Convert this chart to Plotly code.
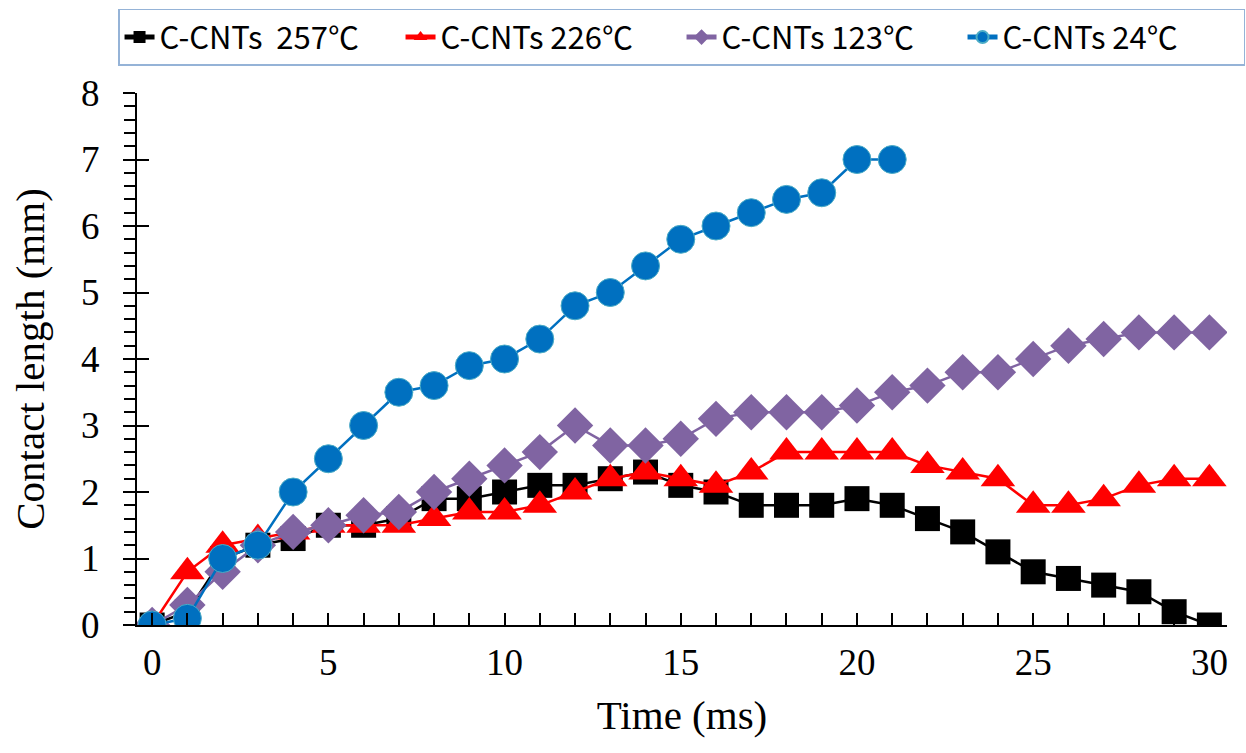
import plotly.graph_objects as go

# Time (ms)
time_ms = list(range(0, 31))
time_24 = list(range(0, 22))

# Contact length (mm) for each substrate temperature
len_257 = [0, 0.2, 1.0, 1.2, 1.3, 1.5, 1.5, 1.6, 1.9, 1.9, 2.0, 2.1, 2.1, 2.2, 2.3, 2.1,
           2.0, 1.8, 1.8, 1.8, 1.9, 1.8, 1.6, 1.4, 1.1, 0.8, 0.7, 0.6, 0.5, 0.2, 0.0]
len_226 = [0, 0.8, 1.2, 1.3, 1.4, 1.5, 1.5, 1.5, 1.6, 1.7, 1.7, 1.8, 2.0, 2.2, 2.3, 2.2,
           2.1, 2.3, 2.6, 2.6, 2.6, 2.6, 2.4, 2.3, 2.2, 1.8, 1.8, 1.9, 2.1, 2.2, 2.2]
len_123 = [0, 0.3, 0.8, 1.2, 1.4, 1.5, 1.65, 1.7, 2.0, 2.2, 2.4, 2.6, 3.0, 2.7, 2.7, 2.8,
           3.1, 3.2, 3.2, 3.2, 3.3, 3.5, 3.6, 3.8, 3.8, 4.0, 4.2, 4.3, 4.4, 4.4, 4.4]
len_24 = [0, 0.1, 1.0, 1.2, 2.0, 2.5, 3.0, 3.5, 3.6, 3.9, 4.0, 4.3, 4.8, 5.0, 5.4, 5.8,
          6.0, 6.2, 6.4, 6.5, 7.0, 7.0]

series_names = ["C-CNTs\u00a0\u00a0257℃", "C-CNTs 226℃", "C-CNTs 123℃", "C-CNTs 24℃"]
y_ticks = [0, 1, 2, 3, 4, 5, 6, 7, 8]
x_ticks = [0, 5, 10, 15, 20, 25, 30]

fig = go.Figure()

fig.add_trace(go.Scatter(
    x=time_ms, y=len_257, name=series_names[0], mode="lines+markers",
    line=dict(color="#000000", width=2.5),
    marker=dict(symbol="square", size=25, color="#000000"),
))
fig.add_trace(go.Scatter(
    x=time_ms, y=len_226, name=series_names[1], mode="lines+markers",
    line=dict(color="#FF0000", width=2.5),
    marker=dict(symbol="triangle-up", size=30, color="#FF0000"),
))
fig.add_trace(go.Scatter(
    x=time_ms, y=len_123, name=series_names[2], mode="lines+markers",
    line=dict(color="#8064A2", width=2.5),
    marker=dict(symbol="diamond", size=28, color="#8064A2"),
))
fig.add_trace(go.Scatter(
    x=time_24, y=len_24, name=series_names[3], mode="lines+markers",
    line=dict(color="#0070C0", width=2.5),
    marker=dict(symbol="circle", size=28, color="#0070C0",
                line=dict(color="#4BACC6", width=1)),
))

# overlay axis that draws the inward half of the major y ticks
fig.add_trace(go.Scatter(x=[None], y=[None], yaxis="y2", showlegend=False, hoverinfo="skip"))

fig.update_layout(
    width=1246, height=753,
    paper_bgcolor="white", plot_bgcolor="white",
    margin=dict(l=137, r=19, t=93, b=128, autoexpand=False),
    font=dict(family="Liberation Serif", color="#000000"),
    showlegend=True,
    legend=dict(
        orientation="h", xref="paper", yref="paper",
        x=-0.0174, y=1.158, xanchor="left", yanchor="top",
        bordercolor="#95B3D7", borderwidth=1.5, bgcolor="white",
        font=dict(family="Noto Sans CJK SC", size=31, color="#000000"),
        entrywidth=236, entrywidthmode="pixels",
        itemsizing="constant", tracegroupgap=0,
    ),
    xaxis=dict(
        range=[-0.43, 30.5], tickvals=x_ticks, ticktext=[str(v) for v in x_ticks],
        showline=True, linecolor="#000000", linewidth=2,
        ticks="inside", ticklen=12, tickwidth=2, tickcolor="#000000",
        minor=dict(dtick=1, tick0=0, ticks="inside", ticklen=12, tickwidth=2, tickcolor="#000000"),
        showgrid=False, zeroline=False, mirror=False,
        tickfont=dict(family="Liberation Serif", size=37),
        ticklabelstandoff=4,
        title=dict(text="Time (ms)", font=dict(family="Liberation Serif", size=41), standoff=18),
    ),
    yaxis=dict(
        range=[0, 8], tickvals=y_ticks,
        showline=True, linecolor="#000000", linewidth=2,
        ticks="outside", ticklen=12, tickwidth=2, tickcolor="#000000",
        minor=dict(dtick=0.2, tick0=0, ticks="outside", ticklen=11, tickwidth=2, tickcolor="#000000"),
        showgrid=False, zeroline=False,
        tickfont=dict(family="Liberation Serif", size=37),
        ticklabelstandoff=16,
        title=dict(text="Contact length (mm)", font=dict(family="Liberation Serif", size=41), standoff=24),
    ),
    yaxis2=dict(
        range=[0, 8], tickvals=y_ticks, overlaying="y", side="left",
        showline=False, ticks="inside", ticklen=12, tickwidth=2, tickcolor="#000000",
        showticklabels=False, showgrid=False, zeroline=False,
    ),
)

fig.write_html("out.html")
